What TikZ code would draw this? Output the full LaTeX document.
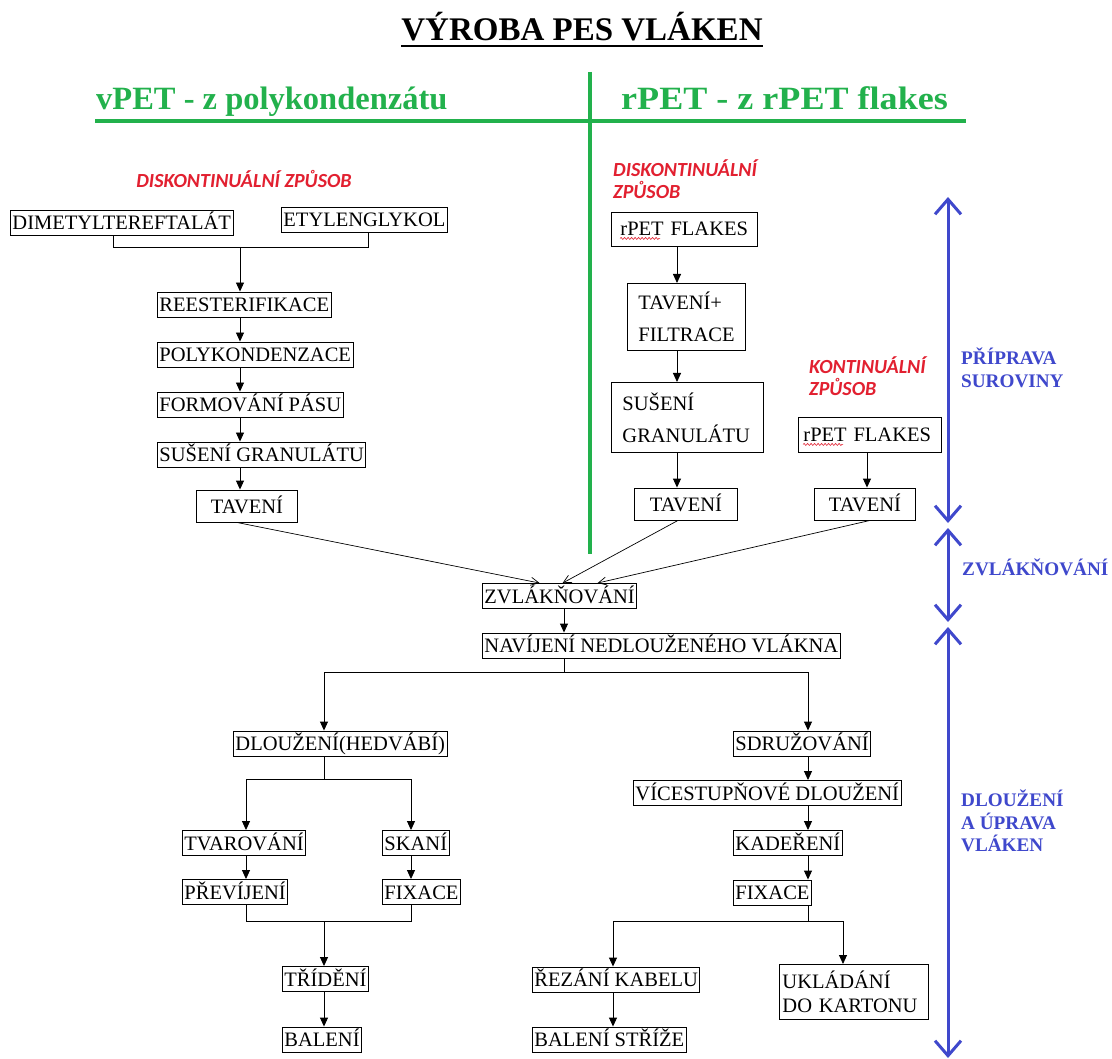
\documentclass[tikz,border=0pt]{standalone}
\usepackage{fontspec}
\setmainfont{Liberation Serif}
\newfontfamily\labelfont{Carlito}
\usetikzlibrary{arrows.meta, positioning, decorations.pathmorphing}

\definecolor{pesgreen}{RGB}{34,177,76}
\definecolor{pesblue}{RGB}{63,72,204}
\definecolor{pesred}{RGB}{226,32,48}

\newcommand{\boxfont}{\fontsize{20.5}{24}\selectfont}

\begin{document}
\begin{tikzpicture}[
  x=1pt, y=-1pt,
  box/.style={draw, line width=0.9pt, font=\boxfont, inner xsep=2pt, inner ysep=0pt, minimum height=25pt, text height=14pt, text depth=0pt, anchor=west},
  padbox/.style={box, minimum width=#1, minimum height=32pt},
  twobox/.style={draw, line width=0.9pt, font=\fontsize{20.5}{32}\selectfont, align=left, inner xsep=11pt, inner ysep=0pt, anchor=north west},
  arr/.style={line width=0.9pt, -{Triangle[length=9pt,width=8pt]}},
  link/.style={line width=0.9pt},
  thinarr/.style={line width=0.7pt, -{Straight Barb[length=8pt,width=8pt]}},
  phase/.style={draw=pesblue, line width=3pt, {Straight Barb[length=15pt,width=26pt]}-{Straight Barb[length=15pt,width=26pt]}},
  method/.style={font=\labelfont\fontsize{20}{22}\selectfont\bfseries\itshape, text=pesred, inner sep=0pt, align=left},
  phaselabel/.style={font=\fontsize{19.2}{22.5}\selectfont\bfseries, text=pesblue, inner sep=0pt, align=left, anchor=north west},
  spell/.style={pesred, line width=0.6pt, decorate, decoration={snake, amplitude=1pt, segment length=3.5pt}}
]
\fill[white] (0,0) rectangle (1112,1059);
\useasboundingbox (0,0) rectangle (1112,1059);

% title and the two routes
\node[font=\fontsize{33}{36}\selectfont\bfseries, inner sep=0pt, anchor=base] (title) at (582,41) {VÝROBA PES VLÁKEN};
\draw[line width=2.5pt] ([yshift=-5pt]title.base west) -- ([yshift=-5pt]title.base east);

\node[font=\fontsize{32.5}{36}\selectfont\bfseries, text=pesgreen, inner sep=0pt, anchor=base west] (vpet) at (96,110) {vPET - z polykondenzátu};
\node[font=\fontsize{32.5}{36}\selectfont\bfseries, text=pesgreen, inner sep=0pt, anchor=base west] (rpet) at (621,110) {\scalebox{1.11}[1]{rPET - z rPET flakes}};
\draw[pesgreen, line width=3.5pt] (95,121) -- (966,121);
\draw[pesgreen, line width=3.5pt] (590,72) -- (590,554);

\node[method, anchor=base] (diskL) at (244,188) {DISKONTINUÁLNÍ ZPŮSOB};
\node[method, anchor=north west] (diskR) at (613,160) {DISKONTINUÁLNÍ\\ZPŮSOB};
\node[method, anchor=north west] (kont) at (809,357) {KONTINUÁLNÍ\\ZPŮSOB};

% vPET column
\node[box] (dmt) at (10,222.5) {DIMETYLTEREFTALÁT};
\node[box] (eg) at (281,219.5) {ETYLENGLYKOL};
\node[box] (rees) at (157,304.5) {REESTERIFIKACE};
\node[box] (poly) at (157,354.5) {POLYKONDENZACE};
\node[box] (form) at (157,404.5) {FORMOVÁNÍ PÁSU};
\node[box] (susL) at (157,454.5) {SUŠENÍ GRANULÁTU};
\node[padbox=101pt] (tavL) at (196,506) {TAVENÍ};

% rPET columns
\node[box, minimum height=34pt, text width=128pt, inner xsep=9pt, align=left] (flakesD) at (611,229) {rPET FLAKES};
\node[twobox, text width=96pt, minimum height=67pt] (tavfil) at (627,283) {TAVENÍ+\\FILTRACE};
\node[twobox, text width=130pt, minimum height=70pt] (susR) at (611,382) {SUŠENÍ\\GRANULÁTU};
\node[padbox=103pt] (tavM) at (634,504) {TAVENÍ};
\node[box, minimum height=35pt, text width=133pt, inner xsep=5pt, align=left] (flakesK) at (798,434.5) {rPET FLAKES};
\node[padbox=101pt] (tavR) at (814,504) {TAVENÍ};

% spinning
\node[box] (zvl) at (482,596) {ZVLÁKŇOVÁNÍ};
\node[box] (nav) at (482,645.5) {NAVÍJENÍ NEDLOUŽENÉHO VLÁKNA};

% drawing, left
\node[box] (dl) at (233,743.5) {DLOUŽENÍ(HEDVÁBÍ)};
\node[box] (tvar) at (182,843) {TVAROVÁNÍ};
\node[box] (skani) at (382,843) {SKANÍ};
\node[box] (prev) at (182,892) {PŘEVÍJENÍ};
\node[box] (fixL) at (382,892) {FIXACE};
\node[box] (trid) at (282,979) {TŘÍDĚNÍ};
\node[box] (balL) at (282,1039.5) {BALENÍ};

% drawing, right
\node[box] (sdr) at (733,743.5) {SDRUŽOVÁNÍ};
\node[box] (vic) at (633,793) {VÍCESTUPŇOVÉ DLOUŽENÍ};
\node[box] (kad) at (733,843) {KADEŘENÍ};
\node[box] (fixR) at (733,892.5) {FIXACE};
\node[box] (rez) at (532,979.5) {ŘEZÁNÍ KABELU};
\node[box] (balR) at (532,1039.5) {BALENÍ STŘÍŽE};
\node[twobox, font=\fontsize{20.5}{24}\selectfont, inner xsep=3pt, text width=143pt, minimum height=55pt] (ukl) at (779,964) {UKLÁDÁNÍ\\DO KARTONU};

% phases
\node[phaselabel] (prep) at (961,348) {PŘÍPRAVA\\SUROVINY};
\node[phaselabel, anchor=base west] (spin) at (962,575) {ZVLÁKŇOVÁNÍ};
\node[phaselabel] (draw) at (961,790) {DLOUŽENÍ\\A ÚPRAVA\\VLÁKEN};

\coordinate (ph0) at (948,197);
\coordinate (ph1) at (948,523);
\coordinate (ph2) at (948,528);
\coordinate (ph3) at (948,622);
\coordinate (ph4) at (948,627);
\coordinate (ph5) at (948,1058);
\draw[phase] (ph0) -- (ph1);
\draw[phase] (ph2) -- (ph3);
\draw[phase] (ph4) -- (ph5);

% connectors
\coordinate (colL) at (240,0);
\coordinate (colR) at (677,0);
\coordinate (colK) at (867,0);
\coordinate (colM) at (564,0);
\coordinate (colDL) at (324,0);
\coordinate (colDR) at (808,0);

\coordinate (mixL) at (113,247);
\coordinate (mixR) at (368,247);
\draw[link] (dmt.south -| mixL) -- (mixL) -- (mixR) -- (eg.south -| mixR);
\draw[arr] (mixL -| colL) -- (rees.north -| colL);
\draw[arr] (rees.south -| colL) -- (poly.north -| colL);
\draw[arr] (poly.south -| colL) -- (form.north -| colL);
\draw[arr] (form.south -| colL) -- (susL.north -| colL);
\draw[arr] (susL.south -| colL) -- (tavL.north -| colL);

\draw[arr] (flakesD.south -| colR) -- (tavfil.north -| colR);
\draw[arr] (tavfil.south -| colR) -- (susR.north -| colR);
\draw[arr] (susR.south -| colR) -- (tavM.north -| colR);
\draw[arr] (flakesK.south -| colK) -- (tavR.north -| colK);

\draw[thinarr] ([xshift=-10pt]tavL.south) -- ([xshift=-20pt]zvl.north);
\draw[thinarr] ([xshift=-8pt]tavM.south) -- ([xshift=3pt]zvl.north);
\draw[thinarr] ([xshift=5pt]tavR.south) -- ([xshift=38pt]zvl.north);

\draw[arr] (zvl.south -| colM) -- (nav.north -| colM);
\coordinate (splitL) at (324,672);
\coordinate (splitR) at (808,672);
\draw[link] (nav.south -| colM) -- (splitL -| colM);
\draw[link] (splitL) -- (splitR);
\draw[arr] (splitL) -- (dl.north -| splitL);
\draw[arr] (splitR) -- (sdr.north -| splitR);

\coordinate (forkL) at (246,779);
\coordinate (forkR) at (411,779);
\draw[link] (dl.south -| colDL) -- (forkL -| colDL);
\draw[link] (forkL) -- (forkR);
\draw[arr] (forkL) -- (tvar.north -| forkL);
\draw[arr] (forkR) -- (skani.north -| forkR);
\draw[arr] (tvar.south -| forkL) -- (prev.north -| forkL);
\draw[arr] (skani.south -| forkR) -- (fixL.north -| forkR);
\coordinate (mergeL) at (246,921);
\coordinate (mergeR) at (411,921);
\draw[link] (prev.south -| mergeL) -- (mergeL) -- (mergeR) -- (fixL.south -| mergeR);
\draw[arr] (mergeL -| colDL) -- (trid.north -| colDL);
\draw[arr] (trid.south -| colDL) -- (balL.north -| colDL);

\draw[arr] (sdr.south -| colDR) -- (vic.north -| colDR);
\draw[arr] (vic.south -| colDR) -- (kad.north -| colDR);
\draw[arr] (kad.south -| colDR) -- (fixR.north -| colDR);
\coordinate (cutL) at (613,921);
\coordinate (cutR) at (843,921);
\draw[link] (fixR.south -| colDR) -- (cutL -| colDR);
\draw[link] (cutL) -- (cutR);
\draw[arr] (cutL) -- (rez.north -| cutL);
\draw[arr] (cutR) -- (ukl.north -| cutR);
\draw[arr] (rez.south -| cutL) -- (balR.north -| cutL);

\draw[spell] ([shift={(9pt,8pt)}]flakesD.south west) -- ++(40,0);
\draw[spell] ([shift={(5pt,8pt)}]flakesK.south west) -- ++(40,0);
\end{tikzpicture}
\end{document}
